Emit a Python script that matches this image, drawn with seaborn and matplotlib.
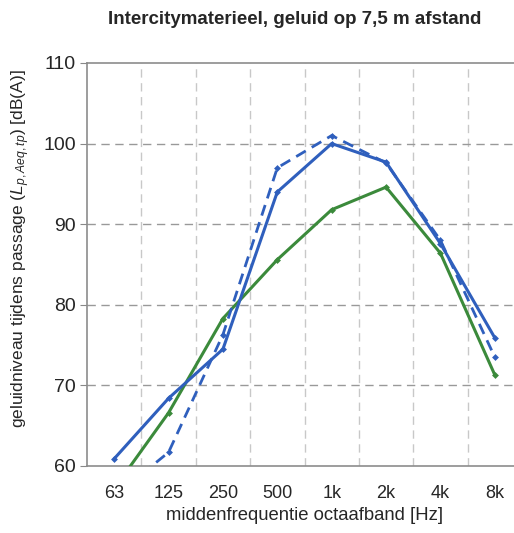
import matplotlib
matplotlib.use('Agg')
import matplotlib.pyplot as plt
import seaborn as sns
import pandas as pd

bands = ['63', '125', '250', '500', '1k', '2k', '4k', '8k']
blue_solid = [60.9, 68.4, 74.5, 94.0, 100.0, 97.7, 87.6, 75.9]
blue_dashed = [56.2, 61.7, 76.3, 97.0, 101.0, 97.6, 88.0, 73.5]
green = [57.2, 66.6, 78.3, 85.6, 91.8, 94.6, 86.4, 71.3]

sns.set_style('white')
plt.rcParams['font.family'] = ['Liberation Sans', 'DejaVu Sans']
plt.rcParams['mathtext.fontset'] = 'custom'
plt.rcParams['mathtext.it'] = 'Liberation Sans:italic'
plt.rcParams['mathtext.rm'] = 'Liberation Sans'

blue = '#2f5fbd'
grn = '#3b8a3b'

x = list(range(len(bands)))
df = pd.DataFrame({'pos': x, 'solid': blue_solid, 'dashed': blue_dashed, 'green': green})

fig = plt.figure(figsize=(5.14, 5.33), dpi=100)
ax = fig.add_axes([87 / 514, 1 - 466 / 533, (522 - 87) / 514, (466 - 63) / 533])

sns.lineplot(data=df, x='pos', y='green', color=grn, lw=2.2, marker='D', markersize=3.5,
             markeredgewidth=0, ax=ax, zorder=3)
sns.lineplot(data=df, x='pos', y='dashed', color=blue, lw=2.0, marker='D', markersize=3.5,
             markeredgewidth=0, ax=ax, zorder=4, dashes=(4, 2.5))
sns.lineplot(data=df, x='pos', y='solid', color=blue, lw=2.2, marker='D', markersize=3.5,
             markeredgewidth=0, ax=ax, zorder=5)

ax.set_xlim(-0.5, 7.5)
ax.set_ylim(60, 110)
ax.set_xticks(x)
ax.set_xticklabels(bands, fontsize=13)
ax.set_xticks([i - 0.5 for i in range(1, 8)], minor=True)
ax.tick_params(axis='x', which='major', length=0, pad=14)
ax.tick_params(axis='x', which='minor', length=5, color='#888888', direction='out')
ax.set_yticks([60, 70, 80, 90, 100, 110])
ax.tick_params(axis='y', labelsize=14, length=5, color='#888888', direction='out', left=True, pad=3)

ax.grid(False)
ax.grid(axis='x', which='minor', color='#c8c8c8', ls=(0, (6, 4)), lw=1)
for yv in [70, 80, 90, 100]:
    ax.axhline(yv, color='#999999', ls=(0, (6, 4)), lw=1, zorder=1)

for s in ['left', 'bottom', 'top']:
    ax.spines[s].set_color('#8c8c8c')
    ax.spines[s].set_linewidth(1.2)
ax.spines['right'].set_visible(False)

ax.set_xlabel('middenfrequentie octaafband [Hz]', fontsize=13.3, labelpad=3)
ax.set_ylabel(r'geluidniveau tijdens passage ($L_{p,Aeq,tp}$) [dB(A)]', fontsize=12.5)
ax.yaxis.set_label_coords(-0.126, 0.54)

fig.text(295 / 514, 1 - 20 / 533, 'Intercitymaterieel, geluid op 7,5 m afstand',
         ha='center', va='center', fontsize=13.5, fontweight='bold')

fig.savefig('out.png', dpi=100)
